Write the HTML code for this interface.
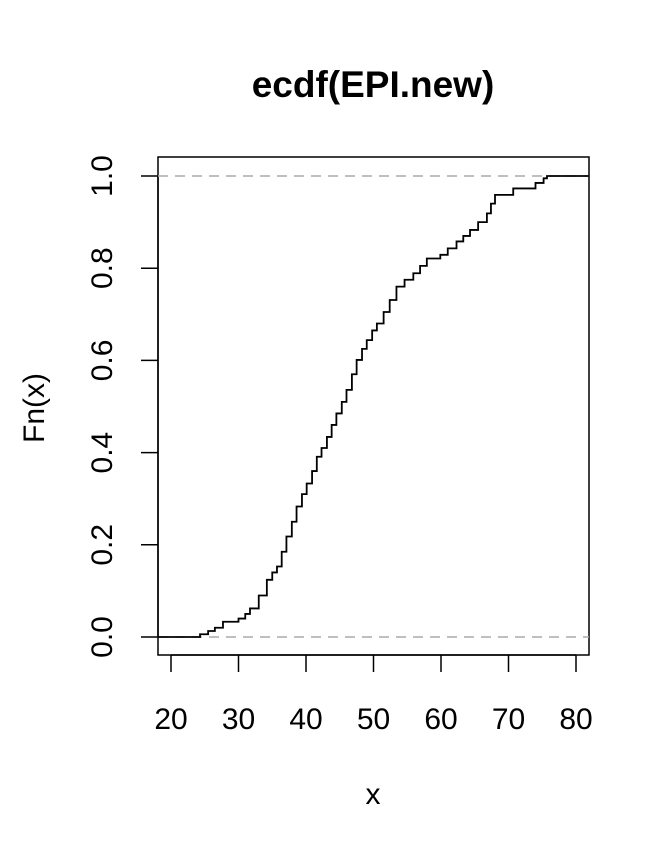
<!DOCTYPE html>
<html><head><meta charset="utf-8"><style>
body{margin:0;background:#fff}
svg text{font-family:"Liberation Sans",Arial,sans-serif;fill:#000}
</style></head><body>
<svg width="670" height="852" xmlns="http://www.w3.org/2000/svg">
<text x="373" y="97" font-size="37" font-weight="bold" text-anchor="middle">ecdf(EPI.new)</text>
<rect x="158" y="157" width="431" height="498" fill="none" stroke="#000" stroke-width="1.5"/>
<g id="axes"></g>
<g id="marks"></g>
<text x="373" y="804" font-size="30" text-anchor="middle">x</text>
<text transform="translate(44,408) rotate(-90)" font-size="30" text-anchor="middle">Fn(x)</text>
</svg>
<script>
const xVals=[24.3,25.5,26.5,27.7,30.0,31.0,31.7,33.0,34.2,35.0,35.7,36.4,37.1,37.9,38.6,39.4,40.1,40.9,41.6,42.3,43.1,43.8,44.5,45.3,46.0,46.8,47.5,48.3,49.0,49.8,50.5,51.5,52.4,53.4,54.6,55.9,56.9,57.9,59.9,61.0,62.3,63.3,64.3,65.5,66.8,67.4,68.0,70.7,72.9,74.0,75.2,75.7];
const fVals=[0.006,0.013,0.02,0.033,0.04,0.05,0.062,0.09,0.124,0.14,0.153,0.185,0.218,0.25,0.283,0.31,0.333,0.36,0.391,0.41,0.434,0.46,0.485,0.51,0.536,0.57,0.601,0.625,0.644,0.665,0.68,0.705,0.731,0.76,0.775,0.789,0.805,0.821,0.829,0.843,0.858,0.87,0.883,0.9,0.919,0.94,0.959,0.973,0.973,0.985,0.995,1.0];
const xTicks=[20,30,40,50,60,70,80];
const yTicks=[0,0.2,0.4,0.6,0.8,1.0];
const NS="http://www.w3.org/2000/svg";
const sx=v=>171+(v-20)*6.75;
const sy=v=>637-v*461;
const X0=158,X1=589;
const axes=document.getElementById('axes'),marks=document.getElementById('marks');
function mk(tag,attrs,parent){const e=document.createElementNS(NS,tag);for(const k in attrs)e.setAttribute(k,attrs[k]);parent.appendChild(e);return e;}
let xa=mk('line',{x1:sx(xTicks[0]),x2:sx(xTicks[xTicks.length-1]),y1:655,y2:655,stroke:'#000','stroke-width':1.5},axes);


xTicks.forEach(t=>{
 const l=mk('line',{x1:sx(t),x2:sx(t),y1:655,y2:672,stroke:'#000','stroke-width':1.5},axes);
 
 
 const tx=mk('text',{x:sx(t),y:729,'font-size':30,'text-anchor':'middle'},axes);
 tx.textContent=t;
 
 
});
let ya=mk('line',{x1:158,x2:158,y1:sy(0),y2:sy(1),stroke:'#000','stroke-width':1.5},axes);


yTicks.forEach(t=>{
 const l=mk('line',{x1:141,x2:158,y1:sy(t),y2:sy(t),stroke:'#000','stroke-width':1.5},axes);
 
 
 const tx=mk('text',{transform:`translate(112,${sy(t)}) rotate(-90)`,'font-size':30,'text-anchor':'middle'},axes);
 tx.textContent=t.toFixed(1);
 
 
});
[0,1].forEach(v=>{
 const l=mk('line',{x1:X0,x2:X1,y1:sy(v),y2:sy(v),stroke:'#aaa','stroke-width':1.5,'stroke-dasharray':'10,7'},marks);
 
 
});
let d=`M${X0},${sy(0)}`;
xVals.forEach((x,i)=>{d+=` H${sx(x)} V${sy(fVals[i])}`;});
d+=` H${X1}`;
const p=mk('path',{d:d,fill:'none',stroke:'#000','stroke-width':1.8},marks);


</script>
</body></html>
